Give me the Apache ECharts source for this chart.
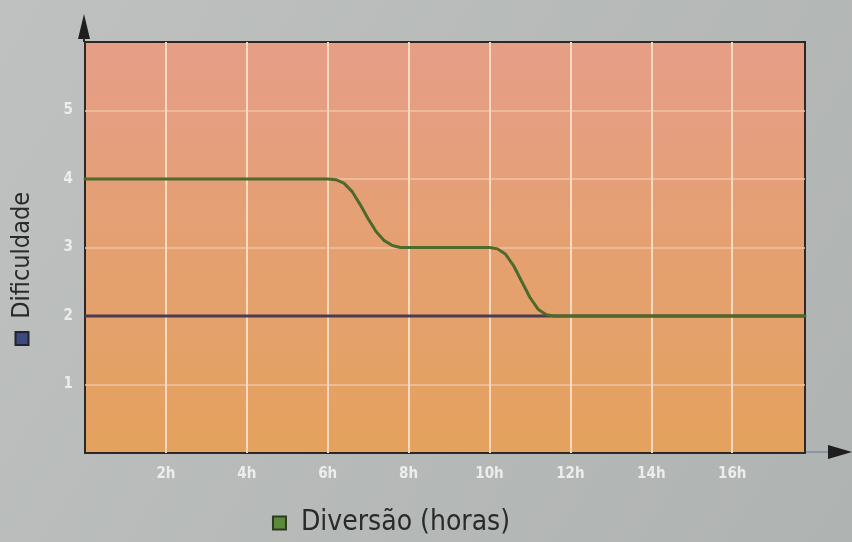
<!DOCTYPE html>
<html>
<head>
<meta charset="utf-8">
<script src="https://cdn.jsdelivr.net/npm/echarts@6/dist/echarts.min.js"></script>
<style>
html,body{margin:0;padding:0;background:#b8bbba;}
#c{width:852px;height:542px;}
</style>
</head>
<body>
<div id="c"></div>
<script>
// Data
var xTickLabels = ['', '2h', '4h', '6h', '8h', '10h', '12h', '14h', '16h'];
var yTickLabels = ['', '1', '2', '3', '4', '5', ''];
var diversao = [[0,4],[6.0,4],[6.2,3.99],[6.4,3.94],[6.6,3.82],[6.8,3.63],[7.0,3.42],[7.2,3.23],[7.4,3.1],[7.6,3.03],[7.8,3.0],
                [10.0,3],[10.2,2.98],[10.4,2.9],[10.6,2.73],[10.8,2.5],[11.0,2.27],[11.2,2.1],[11.4,2.02],[11.6,2.0],[17.8,2]];
var dificuldade = [[0,2],[17.8,2]];

var chart = echarts.init(document.getElementById('c'));
var fontFam = '"DejaVu Sans Condensed", "DejaVu Sans", sans-serif';
chart.setOption({
  backgroundColor: {
    type: 'linear', x: 0, y: 0, x2: 1, y2: 1,
    colorStops: [{offset: 0, color: '#bec1c0'}, {offset: 1, color: '#afb3b2'}]
  },
  animation: false,
  grid: {
    left: 85, right: 47, top: 42, bottom: 89,
    show: true,
    borderColor: '#2c2826', borderWidth: 2,
    backgroundColor: {
      type: 'linear', x: 0, y: 0, x2: 0, y2: 1,
      colorStops: [{offset: 0, color: '#e69e88'}, {offset: 0.5, color: '#e5a071'}, {offset: 1, color: '#e4a25e'}]
    }
  },
  xAxis: {
    type: 'value', min: 0, max: 17.8, interval: 2,
    axisLine: {show: false}, axisTick: {show: false},
    axisLabel: {
      showMaxLabel: false,
      formatter: function (v) { return xTickLabels[Math.round(v / 2)] || ''; },
      color: '#eceeec', fontFamily: fontFam, fontWeight: 'bold', fontSize: 15, margin: 14
    },
    splitLine: {show: true, showMinLine: false, showMaxLine: false, lineStyle: {color: '#f3dac0', width: 2}}
  },
  yAxis: {
    type: 'value', min: 0, max: 6, interval: 1,
    axisLine: {show: false}, axisTick: {show: false},
    axisLabel: {
      formatter: function (v) { return yTickLabels[Math.round(v)] || ''; },
      color: '#eceeec', fontFamily: fontFam, fontWeight: 'bold', fontSize: 15, margin: 12
    },
    splitLine: {show: true, showMinLine: false, showMaxLine: false, lineStyle: {color: '#edc4a6', width: 1.5}}
  },
  series: [
    {
      type: 'line', data: dificuldade, symbol: 'none', z: 2,
      lineStyle: {color: '#4a3b52', width: 3}
    },
    {
      type: 'line', data: diversao, symbol: 'none', smooth: false, z: 3,
      lineStyle: {color: '#4d6a2b', width: 3, join: 'round', cap: 'round'}
    }
  ],
  graphic: [
    {type: 'polygon', shape: {points: [[84, 14], [78, 39], [90, 39]]}, style: {fill: '#1e1e1e'}},
    {type: 'line', shape: {x1: 84, y1: 38, x2: 84, y2: 42}, style: {stroke: '#2c2826', lineWidth: 2}},
    {type: 'line', shape: {x1: 806, y1: 452, x2: 832, y2: 452}, style: {stroke: '#8a96a8', lineWidth: 2}},
    {type: 'polygon', shape: {points: [[852, 452], [828, 445], [828, 459]]}, style: {fill: '#1e1e1e'}},
    {
      type: 'text', x: 392, y: 523,
      style: {
        text: '{sq|}  Diversão (horas)', fontFamily: fontFam, fontSize: 28, fill: '#2a2a2a',
        align: 'center', verticalAlign: 'middle',
        rich: {sq: {width: 11, height: 11, backgroundColor: '#5a8a3a', borderColor: '#2c3a22', borderWidth: 2}}
      }
    },
    {
      type: 'text', x: 22, y: 268, rotation: Math.PI / 2,
      style: {
        text: '{sq|}  Dificuldade', fontFamily: fontFam, fontSize: 25, fill: '#2a2a2a',
        align: 'center', verticalAlign: 'middle',
        rich: {sq: {width: 11, height: 11, backgroundColor: '#3c4a7c', borderColor: '#222233', borderWidth: 2}}
      }
    }
  ]
});
</script>
</body>
</html>
